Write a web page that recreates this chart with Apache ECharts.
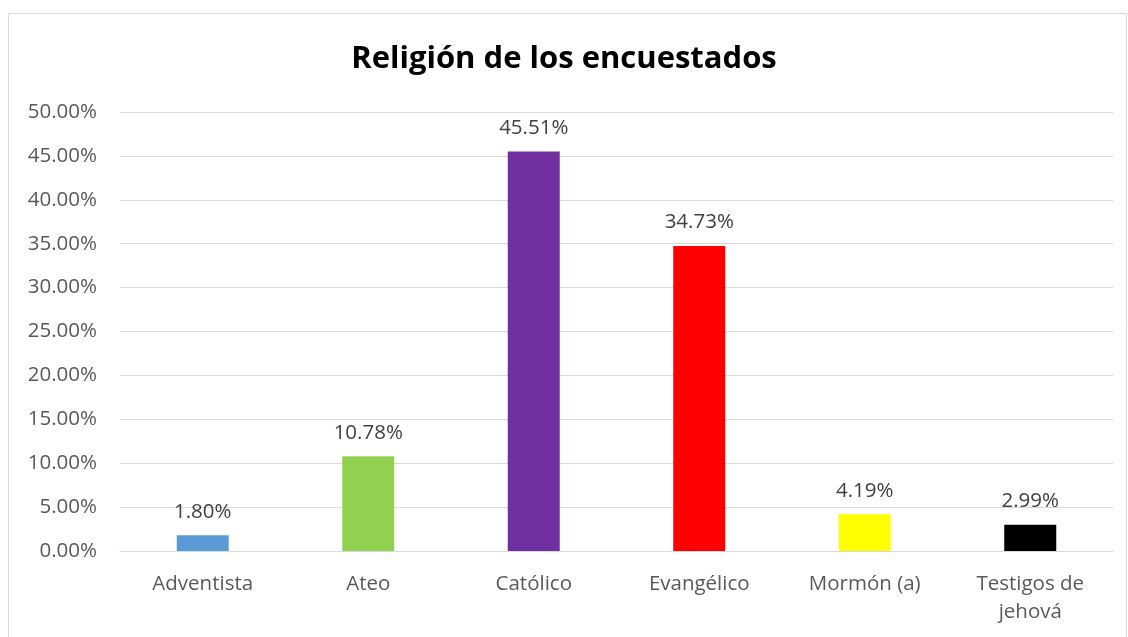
<!DOCTYPE html>
<html>
<head>
<meta charset="utf-8">
<script src="https://cdn.jsdelivr.net/npm/echarts@6/dist/echarts.min.js"></script>
<style>
html,body{margin:0;padding:0;background:#fff;}
#chart{width:1128px;height:637px;}
</style>
</head>
<body>
<div id="chart"></div>
<script>
const title = 'Religión de los encuestados';
const categories = ['Adventista', 'Ateo', 'Católico', 'Evangélico', 'Mormón (a)', 'Testigos de\njehová'];
const values = [1.80, 10.78, 45.51, 34.73, 4.19, 2.99];
const colors = ['#5B9BD5', '#92D050', '#7030A0', '#FF0000', '#FFFF00', '#000000'];
const yMin = 0, yMax = 50, yInterval = 5;

const font = '"Open Sans", "Noto Sans", sans-serif';
const chart = echarts.init(document.getElementById('chart'), null, {renderer: 'canvas'});
chart.setOption({
  animation: false,
  backgroundColor: '#fff',
  graphic: [{
    type: 'rect',
    shape: {x: 8.5, y: 13.5, width: 1118, height: 640},
    style: {fill: 'none', stroke: '#d9d9d9', lineWidth: 1},
    silent: true, z: -1
  }],
  title: {
    text: title,
    left: 'center',
    top: 39,
    textStyle: {fontFamily: font, fontSize: 31, fontWeight: 'bold', color: '#000'}
  },
  grid: {left: 120, right: 15, top: 112, bottom: 86, containLabel: false},
  xAxis: {
    type: 'category',
    data: categories,
    axisLine: {show: true, lineStyle: {color: '#d9d9d9', width: 1}},
    axisTick: {show: false},
    axisLabel: {fontFamily: font, fontSize: 20.5, color: '#595959', margin: 19, lineHeight: 28, interval: 0}
  },
  yAxis: {
    type: 'value',
    min: yMin, max: yMax, interval: yInterval,
    axisLine: {show: false},
    axisTick: {show: false},
    splitLine: {lineStyle: {color: '#d9d9d9', width: 1}},
    axisLabel: {fontFamily: font, fontSize: 20.5, color: '#595959', margin: 23,
      formatter: v => v.toFixed(2) + '%'}
  },
  series: [{
    type: 'bar',
    barWidth: 52,
    data: values.map((v, i) => ({value: v, itemStyle: {color: colors[i]}})),
    label: {
      show: true, position: 'top', distance: 13,
      fontFamily: font, fontSize: 20.5, color: '#404040',
      formatter: p => p.value.toFixed(2) + '%'
    }
  }]
});
</script>
</body>
</html>
